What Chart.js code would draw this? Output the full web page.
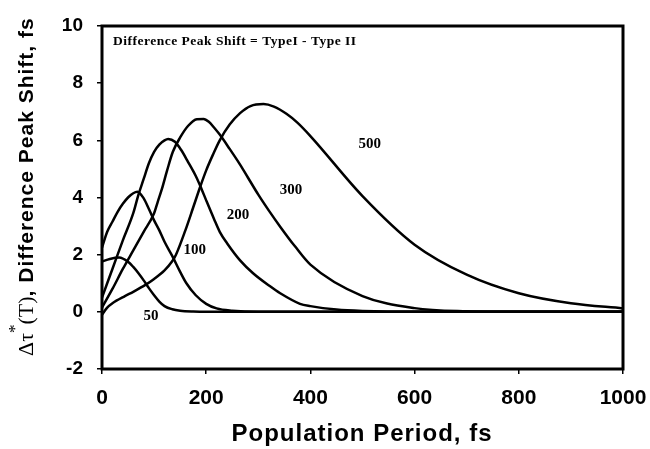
<!DOCTYPE html>
<html>
<head>
<meta charset="utf-8">
<script src="https://cdn.jsdelivr.net/npm/chart.js@4.4.0/dist/chart.umd.min.js"></script>
<style>
  html, body { margin: 0; padding: 0; background: #fff; }
  #wrap { width: 650px; height: 449px; }
</style>
</head>
<body>
<div id="wrap"><canvas id="shiftChart" width="650" height="449"></canvas></div>
<script>
// population period (fs) and difference peak shift (fs) for each width
const t50 = [0, 15, 33, 50, 60, 70, 80, 90, 100, 110, 120, 135, 150, 175, 200, 300, 400, 500, 600, 700, 800, 900, 1000];
const shift50 = [1.76, 1.85, 1.9, 1.75, 1.57, 1.35, 1.1, 0.83, 0.58, 0.36, 0.2, 0.09, 0.04, 0.01, 0, 0, 0, 0, 0, 0, 0, 0, 0];

const t100 = [0, 10, 20, 30, 40, 50, 60, 68, 80, 90, 100, 110, 120, 135, 150, 162, 180, 200, 220, 250, 300, 400, 500, 600, 700, 800, 900, 1000];
const shift100 = [2.25, 2.8, 3.15, 3.5, 3.78, 4.0, 4.15, 4.2, 3.97, 3.6, 3.2, 2.85, 2.45, 1.95, 1.4, 1.0, 0.58, 0.28, 0.12, 0.04, 0, 0, 0, 0, 0, 0, 0, 0];

const t200 = [0, 20, 40, 60, 70, 80, 90, 100, 110, 120, 127, 140, 152, 165, 180, 191, 200, 215, 226, 240, 265, 290, 322, 342, 380, 400, 450, 500, 600, 700, 800, 900, 1000];
const shift200 = [0.5, 1.5, 2.5, 3.45, 4.1, 4.65, 5.2, 5.6, 5.85, 6.0, 6.05, 5.95, 5.66, 5.25, 4.75, 4.3, 3.9, 3.25, 2.8, 2.4, 1.8, 1.35, 0.9, 0.65, 0.28, 0.2, 0.08, 0.03, 0, 0, 0, 0, 0];

const t300 = [0, 20, 40, 60, 80, 100, 107, 115, 125, 136, 150, 165, 182, 195, 205, 215, 226, 245, 265, 280, 300, 320, 342, 370, 400, 500, 600, 700, 800, 900, 1000];
const shift300 = [0.15, 0.8, 1.5, 2.15, 2.8, 3.45, 3.85, 4.3, 4.95, 5.6, 6.1, 6.5, 6.74, 6.75, 6.65, 6.45, 6.2, 5.7, 5.15, 4.7, 4.1, 3.55, 2.98, 2.3, 1.65, 0.55, 0.13, 0.02, 0, 0, 0];

const t500 = [0, 10, 20, 44, 60, 84, 100, 120, 134, 142, 160, 175, 188, 200, 213, 226, 245, 265, 285, 310, 330, 354, 375, 400, 500, 600, 700, 800, 900, 1000];
const shift500 = [-0.1, 0.15, 0.3, 0.55, 0.7, 0.95, 1.15, 1.45, 1.75, 2.0, 2.85, 3.65, 4.35, 4.95, 5.5, 6.0, 6.55, 6.95, 7.2, 7.27, 7.18, 6.93, 6.62, 6.15, 4.05, 2.35, 1.3, 0.65, 0.3, 0.12];

const xTicks = [0, 200, 400, 600, 800, 1000];
const yTicks = [-2, 0, 2, 4, 6, 8, 10];

const seriesNames = ['50', '100', '200', '300', '500'];
const seriesX = [t50, t100, t200, t300, t500];
const seriesY = [shift50, shift100, shift200, shift300, shift500];

// where each width label sits, in axis units
const labelSpots = [
  { x: 94, y: -0.14 },
  { x: 178, y: 2.17 },
  { x: 261, y: 3.39 },
  { x: 363, y: 4.27 },
  { x: 514, y: 5.87 }
];

const SANS = '"Liberation Sans", Arial, sans-serif';
const SERIF = '"Liberation Serif", "Times New Roman", serif';

const datasets = seriesNames.map((name, i) => ({
  label: name,
  data: seriesX[i].map((t, j) => ({ x: t, y: seriesY[i][j] })),
  borderColor: '#000',
  borderWidth: 2.5,
  pointRadius: 0,
  cubicInterpolationMode: 'monotone',
  fill: false
}));

const decorations = {
  id: 'decorations',
  afterDraw(chart) {
    const { ctx, chartArea: a, scales } = chart;
    ctx.save();

    // plot frame
    ctx.strokeStyle = '#000';
    ctx.lineWidth = 3;
    ctx.strokeRect(a.left, a.top, a.right - a.left, a.bottom - a.top);

    ctx.fillStyle = '#000';

    // formula note inside the frame
    ctx.font = 'bold 13.5px ' + SERIF;
    ctx.letterSpacing = '0.5px';
    ctx.textAlign = 'left';
    ctx.textBaseline = 'alphabetic';
    ctx.fillText('Difference Peak Shift = TypeI - Type II', 113, 45);

    // width labels next to each curve
    ctx.font = 'bold 15px ' + SERIF;
    ctx.letterSpacing = '0px';
    ctx.textAlign = 'center';
    ctx.textBaseline = 'middle';
    seriesNames.forEach((name, i) => {
      const p = labelSpots[i];
      ctx.fillText(name, scales.x.getPixelForValue(p.x), scales.y.getPixelForValue(p.y));
    });

    // x axis title
    ctx.font = 'bold 24px ' + SANS;
    ctx.letterSpacing = '1px';
    ctx.textAlign = 'center';
    ctx.textBaseline = 'alphabetic';
    ctx.fillText('Population Period, fs', 362, 441);

    // y axis title, mixed serif symbol and bold sans words
    ctx.translate(33, 356);
    ctx.rotate(-Math.PI / 2);
    ctx.textAlign = 'left';
    let x = 0;
    ctx.letterSpacing = '0px';
    ctx.font = '22px ' + SERIF;
    ctx.fillText('Δτ', x, 0);
    x += ctx.measureText('Δτ').width;
    ctx.font = '17px ' + SERIF;
    ctx.fillText('*', x, -13);
    x += ctx.measureText('*').width;
    ctx.font = '22px ' + SERIF;
    ctx.fillText('(T)', x, 0);
    x += ctx.measureText('(T)').width;
    ctx.font = 'bold 21px ' + SANS;
    ctx.letterSpacing = '1px';
    ctx.fillText(', Difference Peak Shift, fs', x, 0);

    ctx.restore();
  }
};

new Chart(document.getElementById('shiftChart'), {
  type: 'line',
  data: { datasets },
  options: {
    responsive: false,
    animation: false,
    layout: { padding: { left: 0, top: 26, right: 27, bottom: 0 } },
    plugins: {
      legend: { display: false },
      tooltip: { enabled: false }
    },
    scales: {
      x: {
        type: 'linear',
        min: 0,
        max: 1000,
        afterBuildTicks: (scale) => { scale.ticks = xTicks.map(v => ({ value: v })); },
        afterFit: (scale) => {
          scale.height = 80;
          scale.paddingLeft = 0;
          scale.paddingRight = 0;
        },
        border: { display: false },
        grid: { drawOnChartArea: false, drawTicks: true, tickLength: 5, color: '#000', lineWidth: 1.5 },
        ticks: {
          color: '#000', padding: 12, maxRotation: 0,
          callback: (v) => String(v),
          font: { family: SANS, size: 21, weight: 'bold' }
        }
      },
      y: {
        type: 'linear',
        min: -2,
        max: 10,
        afterBuildTicks: (scale) => { scale.ticks = yTicks.map(v => ({ value: v })); },
        afterFit: (scale) => {
          scale.width = 102;
          scale.paddingTop = 0;
          scale.paddingBottom = 0;
        },
        border: { display: false },
        grid: { drawOnChartArea: false, drawTicks: true, tickLength: 5, color: '#000', lineWidth: 1.5 },
        ticks: { color: '#000', padding: 14, font: { family: SANS, size: 19, weight: 'bold' } }
      }
    }
  },
  plugins: [decorations]
});
</script>
</body>
</html>
